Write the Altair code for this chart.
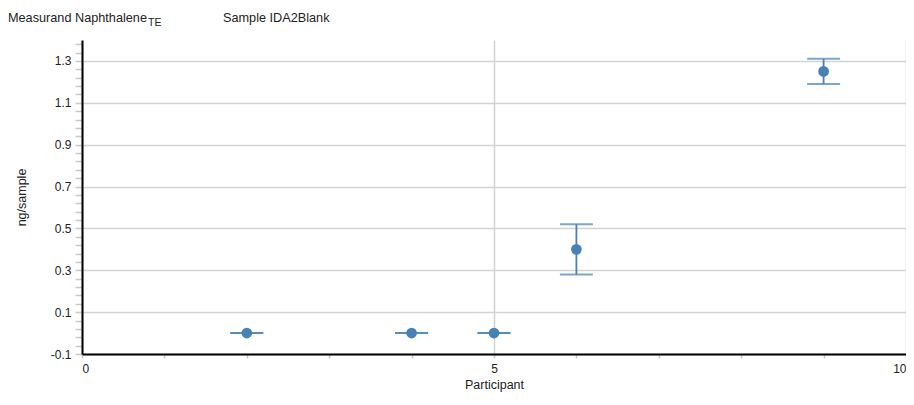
import altair as alt
import pandas as pd

# ---- data ----
participants = [2, 4, 5, 6, 9]
values = [0.0, 0.0, 0.0, 0.40, 1.25]
lower = [0.0, 0.0, 0.0, 0.28, 1.19]
upper = [0.0, 0.0, 0.0, 0.52, 1.31]

y_tick_values = [round(-0.1 + 0.04 * i, 2) for i in range(38)]
x_tick_values = list(range(11))

title_main = "Measurand Naphthalene"
title_sub = "TE"
title_sample = "Sample IDA2Blank"

df = pd.DataFrame({"Participant": participants, "value": values, "low": lower, "high": upper})
one = pd.DataFrame({"a": [0]})

FONT = "Liberation Sans"
COLOR = "#4682b4"
TXT = "#222222"

xscale = alt.Scale(domain=[0, 10], nice=False, zero=False)
yscale = alt.Scale(domain=[-0.1, 1.4], nice=False, zero=False)

major_y = "abs((datum.value + 0.1) / 0.2 - round((datum.value + 0.1) / 0.2)) < 0.001"
major_x = "datum.value % 5 == 0"

xaxis = alt.Axis(
    title="Participant", values=x_tick_values,
    labelExpr="datum.value % 5 == 0 ? format(datum.value, 'd') : ''",
    grid=True, gridColor="#d3d3d3", gridWidth=1.5,
    gridOpacity={"condition": {"test": major_x, "value": 1}, "value": 0},
    domainColor="black", domainWidth=2,
    tickColor="#c8c8c8", tickSize=4, tickWidth=1.5,
    labelFont=FONT, labelFontSize=12, labelColor=TXT, labelPadding=5,
    titleFont=FONT, titleFontSize=12.5, titleFontWeight="normal", titleColor=TXT, titlePadding=4,
    labelOverlap=False,
)
yaxis = alt.Axis(
    title="ng/sample", values=y_tick_values,
    labelExpr="abs((datum.value + 0.1) / 0.2 - round((datum.value + 0.1) / 0.2)) < 0.001 ? (datum.value < 0 ? '-' + format(-datum.value, '.1f') : format(datum.value, '.1f')) : ''",
    grid=True, gridColor="#d3d3d3", gridWidth=1.5,
    gridOpacity={"condition": {"test": major_y, "value": 1}, "value": 0},
    domainColor="black", domainWidth=2,
    tickColor="#c8c8c8", tickSize=7, tickWidth=1.5,
    labelFont=FONT, labelFontSize=12, labelColor=TXT, labelPadding=4,
    titleFont=FONT, titleFontSize=12.5, titleFontWeight="normal", titleColor=TXT, titlePadding=22,
    labelOverlap=False,
)

X = alt.X("Participant:Q", scale=xscale, axis=xaxis)

base = alt.Chart(df)

rules = base.mark_rule(color=COLOR, strokeWidth=1.8).encode(
    x=X, y=alt.Y("low:Q", scale=yscale, axis=yaxis), y2="high:Q"
)
cap_low = base.mark_tick(color=COLOR, orient="horizontal", size=33, thickness=2).encode(
    x=X, y=alt.Y("low:Q", scale=yscale, axis=yaxis)
)
cap_high = base.mark_tick(color=COLOR, orient="horizontal", size=33, thickness=2).encode(
    x=X, y=alt.Y("high:Q", scale=yscale, axis=yaxis)
)
points = base.mark_circle(color=COLOR, size=115, opacity=1).encode(
    x=X, y=alt.Y("value:Q", scale=yscale, axis=yaxis)
)

t1 = alt.Chart(one).mark_text(align="left", baseline="alphabetic", font=FONT, fontSize=12.7, color=TXT).encode(
    x=alt.value(-74), y=alt.value(-18.5), text=alt.value(title_main)
)
t2 = alt.Chart(one).mark_text(align="left", baseline="alphabetic", font=FONT, fontSize=10.5, color=TXT).encode(
    x=alt.value(66), y=alt.value(-14), text=alt.value(title_sub)
)
t3 = alt.Chart(one).mark_text(align="left", baseline="alphabetic", font=FONT, fontSize=12.7, color=TXT).encode(
    x=alt.value(141), y=alt.value(-18.5), text=alt.value(title_sample)
)

chart = alt.layer(rules, cap_low, cap_high, points, t1, t2, t3).properties(
    width=824, height=314,
    autosize=alt.AutoSizeParams(type="none"),
    padding={"left": 74, "top": 32, "right": 0, "bottom": 38},
).configure_view(strokeWidth=0)

chart.save("out.html", embed_options={"renderer": "svg", "actions": False})
